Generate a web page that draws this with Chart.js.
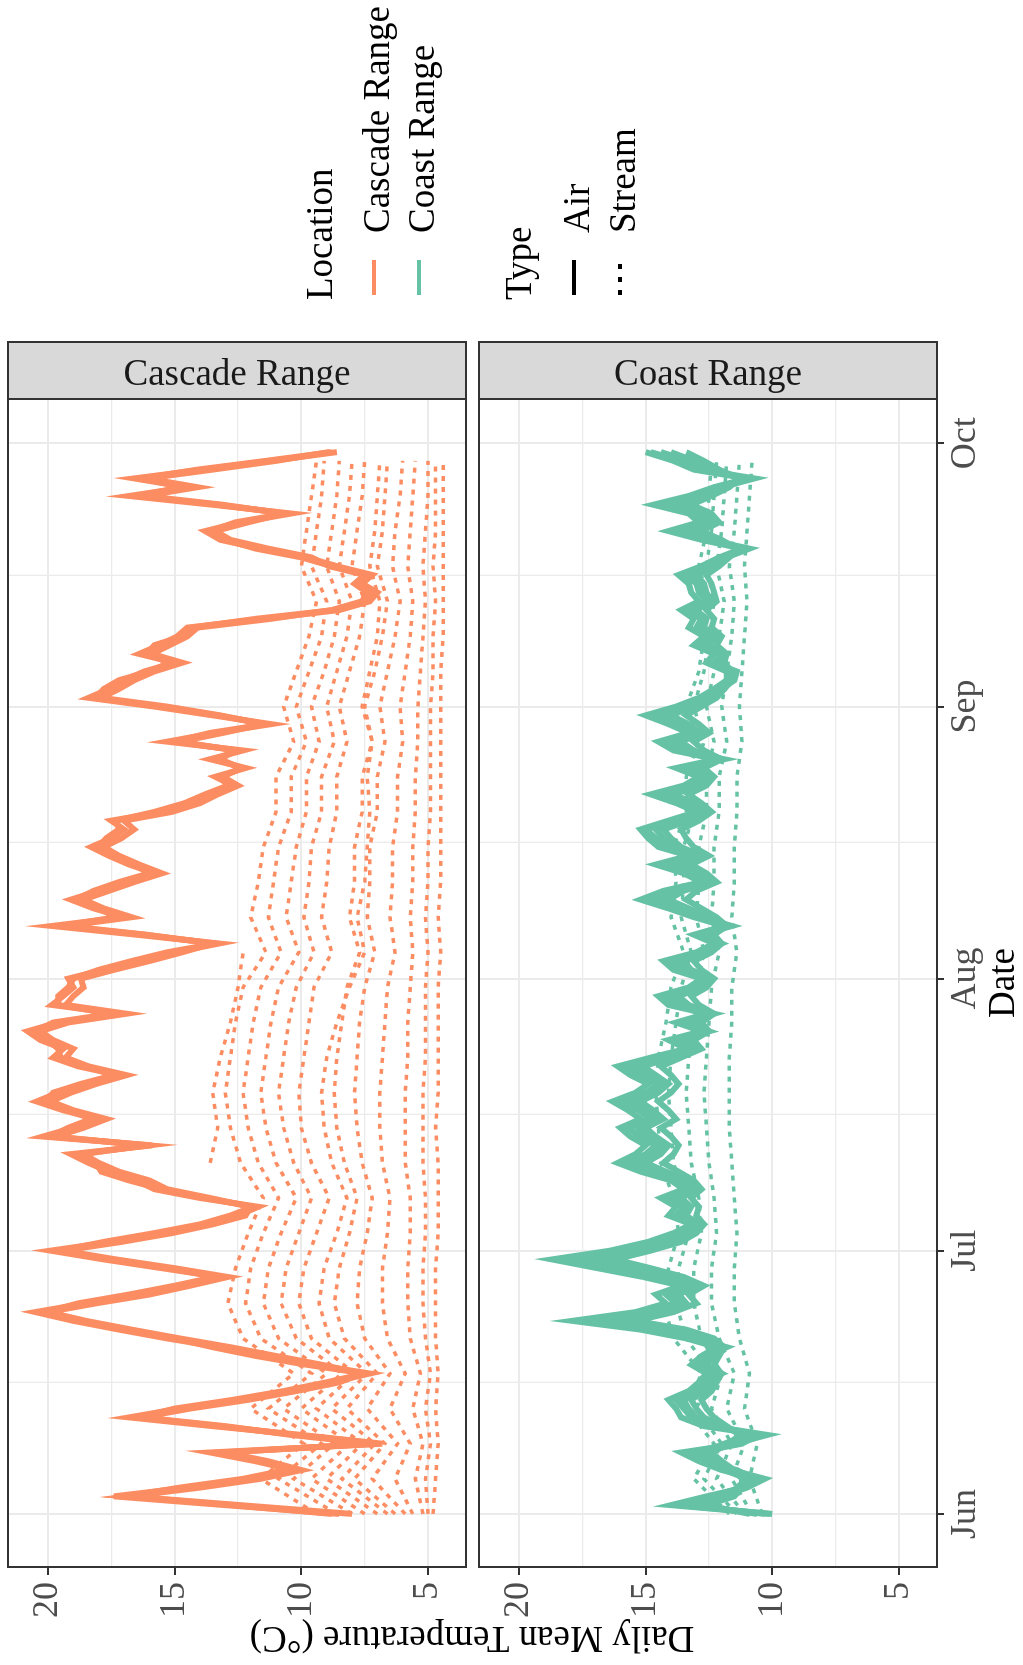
<!DOCTYPE html>
<html>
<head>
<meta charset="utf-8">
<title>Daily Mean Temperature</title>
<script src="https://cdn.jsdelivr.net/npm/chart.js@4.4.1/dist/chart.umd.min.js"></script>
<style>
html, body { margin:0; padding:0; background:#fff; width:1023px; height:1665px; overflow:hidden; }
/* the ggplot figure is landscape, the picture shows it turned a quarter left */
#sheet { position:absolute; left:0; top:0; width:1665px; height:1023px;
         transform-origin:0 0; transform:translateY(1665px) rotate(-90deg); }
#sheet canvas { position:absolute; left:0; top:0; }
</style>
</head>
<body>
<div id="sheet">
  <canvas id="cascade" width="1665" height="1023"></canvas>
  <canvas id="coast" width="1665" height="1023"></canvas>
</div>
<script>
const ORANGE = '#FC8D62';
const GREEN = '#66C2A5';
const FONT = '"Liberation Serif", "Times New Roman", serif';

// axis definitions (days counted from Jun 1)
const monthDays = [0, 30, 61, 92, 122];
const monthLabels = ['Jun', 'Jul', 'Aug', 'Sep', 'Oct'];
const midMonthDays = [15, 45.5, 76.5, 107];
const tempTicks = [5, 10, 15, 20];
const tempMinor = [7.5, 12.5, 17.5];
const dayRange = [-6.05, 127.05];
const tempRange = [3.5, 21.58];

const locationNames = ['Cascade Range', 'Coast Range'];
const typeNames = ['Air', 'Stream'];

// air: one value per day, Jun 1 .. Sep 30
const airDays = [...Array(122).keys()];
const cascadeAirA = [
  8.5,13.0,17.4,14.5,12.0,10.3,11.8,13.6,6.8,10.0,
  13.5,16.8,14.8,12.5,10.5,8.8,7.3,9.5,11.5,13.2,
  15.3,17.2,19.0,20.5,18.5,16.5,14.8,13.2,15.5,17.8,
  19.9,17.5,15.5,13.8,12.5,11.7,14.0,15.8,16.5,17.6,
  18.4,19.1,15.9,20.2,19.0,18.1,19.4,20.45,19.6,18.5,
  17.2,18.8,19.8,19.4,20.3,20.8,19.6,17.2,19.85,19.4,
  19.0,19.2,17.8,16.4,15.0,13.25,16.5,19.85,17.0,18.2,
  19.1,18.0,17.0,15.8,16.8,17.6,18.3,17.5,17.0,17.5,
  15.5,14.3,13.6,12.7,13.4,12.2,13.6,12.3,15.3,13.4,
  11.2,13.5,15.8,18.4,17.6,17.0,16.2,15.0,16.4,15.6,
  14.9,14.5,11.5,8.5,7.3,7.0,7.6,7.2,8.6,9.8,
  11.6,13.2,13.8,12.4,10.4,13.5,16.8,14.5,16.6,13.9,
  11.2,8.6
];
const cascadeAirB = [
  8.0,12.4,16.8,14.0,11.6,10.0,11.3,13.0,7.2,10.4,
  13.0,16.3,14.4,12.1,10.2,8.5,7.6,9.2,11.0,12.8,
  14.8,16.7,18.5,20.0,18.1,16.0,14.4,12.9,15.0,17.3,
  19.4,17.1,15.1,13.5,12.2,12.0,13.6,15.3,16.0,17.2,
  18.0,18.6,16.2,19.7,18.6,17.7,19.0,19.9,19.1,18.1,
  16.9,18.4,19.3,19.0,19.8,20.3,19.2,16.9,19.3,19.0,
  18.6,18.7,17.4,16.0,14.7,13.5,16.1,19.3,16.7,17.8,
  18.6,17.6,16.6,15.5,16.4,17.2,17.8,17.1,16.6,17.0,
  15.1,14.0,13.3,12.5,13.1,12.4,13.2,12.6,14.8,13.1,
  11.5,13.2,15.3,17.9,17.2,16.6,15.8,14.7,15.9,15.2,
  14.5,14.1,11.2,8.8,7.6,7.4,7.9,7.5,8.9,9.6,
  11.3,12.8,13.4,12.1,10.7,13.1,16.2,14.1,16.1,13.5,
  11.0,8.9
];
const cascadeAirC = [
  8.8,12.7,16.9,14.8,12.3,10.6,11.5,13.2,7.0,10.2,
  13.2,16.4,15.0,12.7,10.7,9.0,7.5,9.8,11.8,13.5,
  15.0,17.0,18.7,20.1,18.8,16.8,15.0,13.4,15.2,17.5,
  19.5,17.8,15.8,14.0,12.8,11.9,13.8,15.5,16.8,17.9,
  18.1,18.8,16.0,19.9,19.2,18.3,19.1,20.1,19.8,18.7,
  17.4,18.5,19.5,19.6,20.0,20.5,19.8,17.5,19.6,19.6,
  19.2,19.0,18.0,16.7,15.3,13.4,16.2,19.5,17.3,18.0,
  18.9,18.2,17.2,16.0,16.6,17.4,18.0,17.7,17.2,17.3,
  15.8,14.6,13.8,12.9,13.2,12.3,13.4,12.5,15.0,13.6,
  11.4,13.3,15.6,18.1,17.8,17.2,16.0,15.2,16.1,15.8,
  14.7,14.3,11.8,8.7,7.5,7.2,7.8,7.3,8.8,10.0,
  11.8,13.0,13.6,12.6,10.6,13.3,16.5,14.7,16.3,14.1,
  11.4,8.8
];
const coastAirA = [
  10.1,13.7,12.0,11.0,10.3,11.6,12.5,13.3,11.5,10.2,
  12.4,13.2,13.5,13.8,13.0,12.6,12.3,12.9,12.4,12.0,
  12.9,14.8,17.5,15.0,13.8,14.2,13.3,14.8,16.5,18.4,
  16.0,14.5,13.6,13.0,13.8,13.5,14.0,13.2,13.7,14.8,
  15.8,15.0,14.6,15.2,15.7,14.8,15.3,16.0,15.0,14.5,
  15.2,15.8,14.5,13.2,13.8,12.5,13.5,12.3,13.8,14.2,
  13.0,12.5,13.6,14.0,12.8,12.0,12.8,11.6,12.8,13.8,
  14.9,14.0,12.5,13.2,14.3,13.0,14.2,14.6,15.0,13.8,
  12.8,13.5,14.5,13.2,12.6,13.5,11.9,13.6,14.2,13.0,
  13.8,14.7,13.5,12.6,12.0,11.5,11.4,12.3,12.0,12.8,
  12.4,13.0,12.8,13.35,12.6,12.9,13.0,13.4,12.5,11.8,
  10.9,12.5,13.8,12.6,13.0,14.4,13.0,12.0,10.7,12.8,
  13.6,14.8
];
const coastAirB = [
  10.6,13.0,11.8,11.4,11.0,11.9,12.3,12.8,11.9,11.0,
  12.0,12.7,13.0,13.2,12.7,12.4,12.2,12.6,12.3,12.1,
  12.6,14.0,16.3,14.4,13.4,13.7,13.0,14.1,15.6,17.2,
  15.4,14.0,13.3,12.9,13.4,13.2,13.6,13.0,13.4,14.2,
  15.0,14.4,14.1,14.6,15.0,14.3,14.7,15.2,14.5,14.1,
  14.6,15.1,14.0,13.0,13.4,12.6,13.1,12.4,13.3,13.7,
  12.8,12.4,13.2,13.5,12.6,12.1,12.6,11.9,12.5,13.3,
  14.1,13.5,12.4,12.9,13.7,12.8,13.6,14.0,14.3,13.3,
  12.6,13.1,13.9,12.9,12.5,13.0,12.1,13.1,13.6,12.8,
  13.3,14.0,13.1,12.4,12.0,11.8,11.7,12.1,12.0,12.5,
  12.2,12.7,12.6,13.0,12.4,12.6,12.7,13.0,12.3,11.9,
  11.3,12.3,13.2,12.3,12.7,13.7,12.7,11.9,11.2,12.4,
  13.1,14.0
];
const coastAirC = [
  10.3,13.3,12.4,11.2,10.7,11.4,12.8,13.0,11.2,10.6,
  12.2,13.0,13.3,13.5,12.8,12.8,12.0,12.7,12.6,11.8,
  13.1,14.4,16.9,14.7,13.6,14.0,13.2,14.5,16.0,17.8,
  15.7,14.2,13.5,12.8,13.6,13.4,13.8,13.1,13.5,14.5,
  15.4,14.7,14.3,14.9,15.3,14.5,15.0,15.6,14.7,14.3,
  14.9,15.4,14.2,13.1,13.6,12.7,13.3,12.5,13.5,13.9,
  12.9,12.6,13.4,13.7,12.7,12.2,12.7,11.8,12.6,13.5,
  14.5,13.7,12.5,13.0,14.0,12.9,13.9,14.3,14.6,13.5,
  12.7,13.3,14.2,13.0,12.5,13.2,12.0,13.3,13.9,12.9,
  13.5,14.3,13.3,12.5,11.9,11.6,11.6,12.2,11.9,12.6,
  12.3,12.8,12.7,13.2,12.5,12.7,12.8,13.2,12.4,11.8,
  11.1,12.4,13.5,12.4,12.8,14.0,12.8,11.9,11.0,12.6,
  13.3,14.4
];
const coastAirD = [
  10.9,12.6,11.5,11.2,11.2,11.5,12.0,12.4,11.7,11.3,
  11.8,12.3,12.6,12.8,12.4,12.2,12.0,12.3,12.1,11.9,
  12.3,13.4,15.4,13.9,13.0,13.3,12.7,13.5,14.8,16.2,
  14.8,13.6,13.0,12.7,13.0,12.9,13.2,12.8,13.1,13.7,
  14.3,13.9,13.7,14.0,14.4,13.8,14.1,14.5,14.0,13.7,
  14.0,14.4,13.6,12.8,13.1,12.5,12.8,12.3,12.9,13.2,
  12.6,12.3,12.8,13.1,12.4,12.0,12.3,11.8,12.2,12.8,
  13.4,13.0,12.2,12.6,13.2,12.5,13.1,13.4,13.6,12.9,
  12.4,12.8,13.3,12.6,12.3,12.7,12.0,12.7,13.1,12.5,
  12.9,13.4,12.8,12.2,11.9,11.7,11.6,11.9,11.8,12.2,
  12.0,12.4,12.3,12.6,12.2,12.3,12.4,12.6,12.1,11.7,
  11.4,12.0,12.8,12.1,12.4,13.2,12.4,11.7,11.3,12.1,
  12.7,13.4
];
const coastAirE = [
  10.0,14.0,12.6,11.1,10.5,12.0,12.9,13.6,11.3,10.4,
  12.7,13.6,13.8,14.1,13.3,12.9,12.6,13.2,12.8,12.2,
  13.4,15.2,17.9,15.4,14.2,14.6,13.6,15.1,16.9,18.7,
  16.4,14.9,13.9,13.2,14.1,13.8,14.4,13.5,14.0,15.2,
  16.1,15.4,15.0,15.6,16.0,15.2,15.7,16.3,15.4,14.9,
  15.6,16.1,14.8,13.4,14.1,12.8,13.8,12.6,14.1,14.5,
  13.3,12.8,13.9,14.3,13.0,12.3,13.1,11.9,13.1,14.1,
  15.2,14.3,12.8,13.5,14.6,13.3,14.5,14.9,15.2,14.1,
  13.0,13.8,14.8,13.5,12.9,13.8,12.2,13.9,14.5,13.3,
  14.1,15.0,13.8,12.9,12.3,11.8,11.8,12.6,12.3,13.1,
  12.7,13.3,13.1,13.6,12.9,13.2,13.3,13.7,12.8,12.1,
  11.2,12.8,14.1,12.9,13.3,14.7,13.3,12.3,11.0,13.1,
  13.9,15.0
];

// streams: read every fourth day
const streamDays = [0,4,8,12,16,20,24,28,32,36,40,44,48,52,56,60,64,68,72,76,80,84,88,92,96,100,104,108,112,116,120];
const cascadeStream1 = [4.8,4.7,4.6,4.7,4.6,4.7,4.7,4.7,4.6,4.6, 4.6,4.7,4.6,4.6,4.6,4.6,4.5,4.6,4.5,4.5, 4.5,4.5,4.5,4.5,4.5,4.4,4.4,4.4,4.4,4.4, 4.4];
const cascadeStream2 = [5.0,5.1,4.9,5.1,4.9,5.1,5.2,5.2,5.1,5.1, 5.2,5.2,5.2,5.1,5.1,5.1,5.0,5.1,5.0,5.0, 4.9,4.9,4.9,4.9,4.8,4.8,4.7,4.8,4.7,4.7, 4.7];
const cascadeStream3 = [5.2,5.5,5.2,5.6,5.3,5.7,5.8,5.8,5.7,5.7, 5.9,5.9,5.9,5.8,5.8,5.7,5.6,5.7,5.6,5.6, 5.5,5.5,5.4,5.4,5.3,5.2,5.1,5.2,5.1,5.0, 5.0];
const cascadeStream4 = [5.6,6.3,5.7,6.5,5.9,6.6,6.8,6.8,6.6,6.5, 6.8,6.9,6.9,6.8,6.7,6.6,6.3,6.5,6.4,6.4, 6.2,6.2,6.0,6.1,5.9,5.7,5.6,5.8,5.7,5.6, 5.5];
const cascadeStream5 = [5.9,7.2,6.2,7.4,6.5,7.5,7.8,7.7,7.4,7.2, 7.6,7.8,7.9,7.8,7.7,7.5,7.1,7.4,7.3,7.3, 7.0,7.0,6.7,6.9,6.6,6.3,6.1,6.4,6.3,6.1, 6.0];
const cascadeStream6 = [6.3,7.9,6.7,8.2,7.0,8.3,8.7,8.5,8.1,7.8, 8.3,8.6,8.7,8.6,8.4,8.2,7.7,8.1,7.9,7.9, 7.6,7.6,7.2,7.5,7.1,6.8,6.6,7.0,6.8,6.7, 6.6];
const cascadeStream7 = [6.6,8.4,7.1,8.8,7.4,8.9,9.3,9.1,8.6,8.2, 8.8,9.1,9.2,9.0,8.6,8.1,7.5,7.8,7.5,7.4, 7.3,7.4,7.2,7.6,7.3,7.0,6.9,7.3,7.1,7.0, 6.9];
const cascadeStream8 = [7.0,9.0,7.6,9.4,7.9,9.6,10.1,9.9,9.4,8.9, 9.6,10.0,10.1,9.9,9.7,9.5,8.8,9.2,9.0,8.9, 8.6,8.6,8.2,8.5,8.1,7.7,7.5,8.0,7.8,7.6, 7.5];
const cascadeStream9 = [7.5,9.6,8.1,10.0,8.4,10.2,10.8,10.6,10.1,9.6, 10.3,10.7,10.9,10.7,10.5,10.2,9.5,9.9,9.7,9.6, 9.2,9.2,8.7,9.0,8.6,8.2,8.0,8.5,8.3,8.1, 8.0];
const cascadeStream10 = [8.0,10.3,8.7,10.7,9.0,10.9,11.5,11.3,10.8,10.2, 11.0,11.4,11.6,11.4,11.2,10.9,10.1,10.6,10.4,10.2, 9.8,9.8,9.3,9.6,9.1,8.7,8.5,9.0,8.8,8.6, 8.5];
const cascadeStream11 = [8.6,10.9,9.2,11.3,9.6,11.6,12.2,12.0,11.5,10.9, 11.7,12.1,12.3,12.1,11.9,11.6,10.8,11.3,11.1,10.9, 10.4,10.4,9.8,10.2,9.7,9.2,9.0,9.6,9.4,9.2, 9.1];
const cascadeStream12 = [9.4,11.6,9.9,12.0,10.3,12.3,12.9,12.6,12.1,11.5, 12.4,12.8,13.0,12.8,12.6,12.3,11.4,12.0,11.7,11.5, 11.0,11.0,10.3,10.7,10.2,9.7,9.4,10.0,9.8,9.6, 9.4];
const cascadeStream13 = [null,null,null,null,null,null,null,null,null,null, 13.6,13.3,13.5,13.2,12.8,12.5,12.3,null,null,null, null,null,null,null,null,null,null,null,null,null, null];

const coastStream1 = [10.4,10.9,10.6,11.1,10.9,11.3,11.5,11.5,11.4,11.5, 11.6,11.7,11.7,11.7,11.6,11.6,11.4,11.6,11.5,11.5, 11.4,11.4,11.2,11.3,11.2,11.1,11.0,11.1,11.0,10.9, 10.8];
const coastStream2 = [10.8,11.6,11.1,11.8,11.5,12.1,12.4,12.4,12.2,12.3, 12.5,12.6,12.7,12.6,12.5,12.4,12.1,12.4,12.3,12.3, 12.1,12.1,11.8,12.0,11.8,11.6,11.5,11.7,11.5,11.4, 11.3];
const coastStream3 = [11.1,12.2,11.6,12.4,12.0,12.8,13.1,13.1,12.8,12.9, 13.2,13.3,13.4,13.3,13.1,13.0,12.7,13.0,12.9,12.9, 12.6,12.6,12.3,12.6,12.3,12.1,11.9,12.2,12.0,11.9, 11.8];
const coastStream4 = [11.4,12.7,12.0,13.0,12.4,13.4,13.8,13.7,13.3,13.5, 13.9,14.0,14.1,14.0,13.8,13.6,13.2,13.6,13.5,13.5, 13.1,13.1,12.7,13.1,12.7,12.5,12.3,12.6,12.4,12.3, 12.2];
const coastStream5 = [11.7,13.1,12.3,13.4,12.8,13.9,14.3,14.1,13.7,13.9, 14.4,14.5,14.6,14.5,14.2,14.0,13.5,14.0,13.8,13.9, 13.4,13.4,12.9,13.4,12.9,12.7,12.5,12.9,12.6,12.5, 12.4];

Chart.defaults.font.family = FONT;

function points(xs, ys) {
  return ys.map((v, i) => ({ x: xs[i], y: v }));
}
function airSet(ys, color) {
  return { data: points(airDays, ys), borderColor: color, borderWidth: 6,
           pointRadius: 0, tension: 0, fill: false };
}
function streamSet(ys, color) {
  return { data: points(streamDays, ys), borderColor: color, borderWidth: 3.5,
           borderDash: [5, 6], pointRadius: 0, tension: 0, fill: false };
}

// grey strip on the right of each panel, panel border on top
const facetStrip = {
  id: 'facetStrip',
  afterDraw(chart, args, opts) {
    const ctx = chart.ctx, a = chart.chartArea;
    ctx.save();
    ctx.strokeStyle = '#333333';
    ctx.lineWidth = 2;
    ctx.strokeRect(a.left, a.top, a.right - a.left, a.bottom - a.top);
    ctx.fillStyle = '#D9D9D9';
    ctx.fillRect(a.right, a.top, 57, a.bottom - a.top);
    ctx.strokeRect(a.right, a.top, 57, a.bottom - a.top);
    ctx.translate(a.right + 14, (a.top + a.bottom) / 2);
    ctx.rotate(Math.PI / 2);
    ctx.fillStyle = '#1A1A1A';
    ctx.font = '37px ' + FONT;
    ctx.textAlign = 'center';
    ctx.textBaseline = 'alphabetic';
    ctx.fillText(opts.label, 0, 0);
    ctx.restore();
  }
};

// shared y title and the two legends, drawn once on the first canvas
const sideNotes = {
  id: 'sideNotes',
  afterDraw(chart) {
    const ctx = chart.ctx;
    ctx.save();
    ctx.fillStyle = '#000';
    ctx.font = '37px ' + FONT;
    ctx.textAlign = 'center';
    ctx.textBaseline = 'middle';
    ctx.translate(28, 472);
    ctx.rotate(-Math.PI / 2);
    ctx.fillText('Daily Mean Temperature (°C)', 0, 0);
    ctx.restore();

    ctx.save();
    ctx.font = '37px ' + FONT;
    ctx.fillStyle = '#000';
    ctx.textAlign = 'left';
    ctx.textBaseline = 'alphabetic';
    ctx.fillText('Location', 1365, 332);
    ctx.fillText('Type', 1365, 531);
    const keys = [
      { y: 374, color: ORANGE, dash: [], text: locationNames[0] },
      { y: 419, color: GREEN, dash: [], text: locationNames[1] },
      { y: 574, color: '#000', dash: [], text: typeNames[0] },
      { y: 620, color: '#000', dash: [5, 8], text: typeNames[1] }
    ];
    keys.forEach(k => {
      ctx.strokeStyle = k.color;
      ctx.lineWidth = 4;
      ctx.setLineDash(k.dash);
      ctx.beginPath();
      ctx.moveTo(1370, k.y);
      ctx.lineTo(1405, k.y);
      ctx.stroke();
      ctx.fillText(k.text, 1432, k.y + 15);
    });
    ctx.restore();
  }
};

const majorDays = new Set(monthDays);
const majorTemps = new Set(tempTicks);

function makePanel(id, label, datasets, top, bottom, showX, extra) {
  return new Chart(document.getElementById(id), {
    type: 'line',
    data: { datasets: datasets },
    options: {
      responsive: false,
      animation: false,
      devicePixelRatio: 1,
      layout: { padding: { left: 0, top: top, right: 399, bottom: showX ? 0 : 1023 - bottom } },
      plugins: { legend: { display: false }, tooltip: { enabled: false }, facetStrip: { label: label } },
      scales: {
        x: {
          type: 'linear', min: dayRange[0], max: dayRange[1],
          afterBuildTicks: ax => { ax.ticks = monthDays.concat(midMonthDays).map(v => ({ value: v })); },
          afterFit: ax => { ax.height = showX ? 1023 - bottom : 0; ax.paddingLeft = 0; ax.paddingRight = 0; },
          border: { display: false },
          grid: {
            color: '#EBEBEB',
            lineWidth: c => (c.tick && majorDays.has(c.tick.value)) ? 2 : 1.3,
            drawTicks: showX, tickLength: 7, tickWidth: 2,
            tickColor: c => (c.tick && majorDays.has(c.tick.value)) ? '#333333' : 'rgba(0,0,0,0)'
          },
          ticks: {
            display: showX, autoSkip: false, maxRotation: 0, padding: 0,
            color: '#4D4D4D', font: { size: 36 },
            callback: v => { const i = monthDays.indexOf(v); return i >= 0 ? monthLabels[i] : ''; }
          },
          title: { display: showX, text: 'Date', color: '#000', font: { size: 37, lineHeight: 1 }, padding: 0 }
        },
        y: {
          min: tempRange[0], max: tempRange[1],
          afterBuildTicks: ax => { ax.ticks = tempTicks.concat(tempMinor).sort((p, q) => p - q).map(v => ({ value: v })); },
          afterFit: ax => { ax.width = 98; ax.paddingTop = 0; ax.paddingBottom = 0; },
          border: { display: false },
          grid: {
            color: '#EBEBEB',
            lineWidth: c => (c.tick && majorTemps.has(c.tick.value)) ? 2 : 1.3,
            tickLength: 8, tickWidth: 2,
            tickColor: c => (c.tick && majorTemps.has(c.tick.value)) ? '#333333' : 'rgba(0,0,0,0)'
          },
          ticks: {
            padding: 7, color: '#4D4D4D', font: { size: 36 },
            callback: v => majorTemps.has(v) ? String(v) : ''
          }
        }
      }
    },
    plugins: [facetStrip].concat(extra)
  });
}

const cascadeSets = [
  airSet(cascadeAirA, ORANGE), airSet(cascadeAirB, ORANGE), airSet(cascadeAirC, ORANGE),
  streamSet(cascadeStream1, ORANGE), streamSet(cascadeStream2, ORANGE), streamSet(cascadeStream3, ORANGE),
  streamSet(cascadeStream4, ORANGE), streamSet(cascadeStream5, ORANGE), streamSet(cascadeStream6, ORANGE),
  streamSet(cascadeStream7, ORANGE), streamSet(cascadeStream8, ORANGE), streamSet(cascadeStream9, ORANGE),
  streamSet(cascadeStream10, ORANGE), streamSet(cascadeStream11, ORANGE), streamSet(cascadeStream12, ORANGE),
  streamSet(cascadeStream13, ORANGE)
];
const coastSets = [
  airSet(coastAirA, GREEN), airSet(coastAirB, GREEN), airSet(coastAirC, GREEN),
  airSet(coastAirD, GREEN), airSet(coastAirE, GREEN),
  streamSet(coastStream1, GREEN), streamSet(coastStream2, GREEN), streamSet(coastStream3, GREEN),
  streamSet(coastStream4, GREEN), streamSet(coastStream5, GREEN)
];

makePanel('cascade', locationNames[0], cascadeSets, 8, 466, false, [sideNotes]);
makePanel('coast', locationNames[1], coastSets, 479, 937, true, []);
</script>
</body>
</html>
